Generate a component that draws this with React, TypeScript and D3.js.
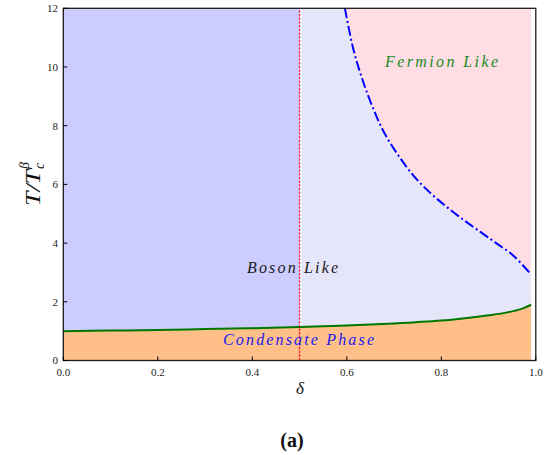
import * as d3 from 'd3'

// phase boundary: condensate (green) curve
const condDelta = [0, 0.1, 0.2, 0.3, 0.4, 0.5, 0.6, 0.7, 0.8, 0.85, 0.9, 0.94, 0.97, 0.99]
const condT = [1.0, 1.02, 1.04, 1.07, 1.1, 1.14, 1.19, 1.26, 1.36, 1.44, 1.54, 1.64, 1.76, 1.9]

// crossover (blue dash-dot) curve
const crossDelta = [0.596, 0.614, 0.635, 0.656, 0.677, 0.706, 0.741, 0.776, 0.811, 0.847, 0.882, 0.917, 0.952, 0.988]
const crossT = [12, 10.6, 9.48, 8.58, 7.83, 7.06, 6.3, 5.72, 5.24, 4.79, 4.39, 3.99, 3.58, 2.97]

const xTicks = [0, 0.2, 0.4, 0.6, 0.8, 1.0]
const yTicks = [0, 2, 4, 6, 8, 10, 12]
const deltaMax = 0.99
const deltaSplit = 0.5

const serif = { fontFamily: "'Liberation Serif', 'DejaVu Serif', 'Times New Roman', serif" }

export default function App() {
  const width = 550
  const height = 455
  const x = d3.scaleLinear().domain([0, 1]).range([63.3, 535.8])
  const y = d3.scaleLinear().domain([0, 12]).range([360.5, 8.3])

  const cond = condDelta.map((d, i) => [d, condT[i]] as [number, number])
  const cross = crossDelta.map((d, i) => [d, crossT[i]] as [number, number])

  const curve = d3.curveCatmullRom.alpha(0.5)

  const line = d3
    .line<[number, number]>()
    .x((d) => x(d[0]))
    .y((d) => y(d[1]))
    .curve(curve)

  const orange = d3
    .area<[number, number]>()
    .x((d) => x(d[0]))
    .y0(y(0))
    .y1((d) => y(d[1]))
    .curve(curve)

  const pink = d3
    .area<[number, number]>()
    .x((d) => x(d[0]))
    .y0(y(12))
    .y1((d) => y(d[1]))
    .curve(curve)

  const pinkData: [number, number][] = [...cross, [deltaMax, 2.9]]

  return (
    <svg width={width} height={height} style={{ position: 'absolute', left: 0, top: 0, background: '#fff', ...serif }}>
      {/* regions */}
      <rect x={x(0)} y={y(12)} width={x(deltaSplit) - x(0)} height={y(0) - y(12)} fill="#ccccff" />
      <rect
        x={x(deltaSplit + 0.004)}
        y={y(12)}
        width={x(deltaMax) - x(deltaSplit + 0.004)}
        height={y(0) - y(12)}
        fill="#e6e6fa"
      />
      <path d={pink(pinkData) ?? ''} fill="#ffdde4" />
      <path d={orange(cond) ?? ''} fill="#ffbf88" />

      {/* curves */}
      <path d={line(cond) ?? ''} fill="none" stroke="#007800" strokeWidth={2} />
      <path d={line(cross) ?? ''} fill="none" stroke="#0000ff" strokeWidth={2} strokeDasharray="10,3,2,3" />
      <line
        x1={x(deltaSplit)}
        x2={x(deltaSplit)}
        y1={y(0)}
        y2={y(12)}
        stroke="#ff0022"
        strokeOpacity={0.85}
        strokeWidth={1.3}
        strokeDasharray="2.5,1.2"
      />

      {/* frame */}
      <rect x={x(0)} y={y(12)} width={x(1) - x(0)} height={y(0) - y(12)} fill="none" stroke="#1a1a1a" strokeWidth={1.3} />

      {/* ticks */}
      {xTicks.map((t) => (
        <g key={'x' + t}>
          <line x1={x(t)} x2={x(t)} y1={y(0)} y2={y(0) - 4} stroke="#000" strokeWidth={1} />
          <text x={x(t)} y={376} textAnchor="middle" fontSize={11} fill="#222">
            {t.toFixed(1)}
          </text>
        </g>
      ))}
      {yTicks.map((t) => (
        <g key={'y' + t}>
          <line x1={x(0)} x2={x(0) + 4} y1={y(t)} y2={y(t)} stroke="#000" strokeWidth={1} />
          <text x={58} y={y(t) + 3.8} textAnchor="end" fontSize={11} fill="#222">
            {t}
          </text>
        </g>
      ))}

      {/* region labels */}
      <text x={385} y={67} fontStyle="italic" fontSize={16} fill="#228b22" textLength={113} lengthAdjust="spacing">
        Fermion Like
      </text>
      <text x={247} y={273} fontStyle="italic" fontSize={16} fill="#1a1a1a" textLength={91} lengthAdjust="spacing">
        Boson Like
      </text>
      <text x={223} y={345} fontStyle="italic" fontSize={16} fill="#2020ee" textLength={151} lengthAdjust="spacing">
        Condensate Phase
      </text>

      {/* axis labels */}
      <g transform="translate(40,206) rotate(-90)" fontStyle="italic" fill="#111">
        <text x={0} y={0} fontSize={22} textLength={36} lengthAdjust="spacingAndGlyphs">
          T/T
        </text>
        <text x={37} y={4} fontSize={14}>
          c
        </text>
        <text x={37} y={-11} fontSize={14}>
          β
        </text>
      </g>
      <text x={300} y={394} textAnchor="middle" fontStyle="italic" fontSize={17} fill="#111">
        δ
      </text>
      <text x={292} y={447} textAnchor="middle" fontWeight="bold" fontSize={20} fill="#111">
        (a)
      </text>
    </svg>
  )
}
